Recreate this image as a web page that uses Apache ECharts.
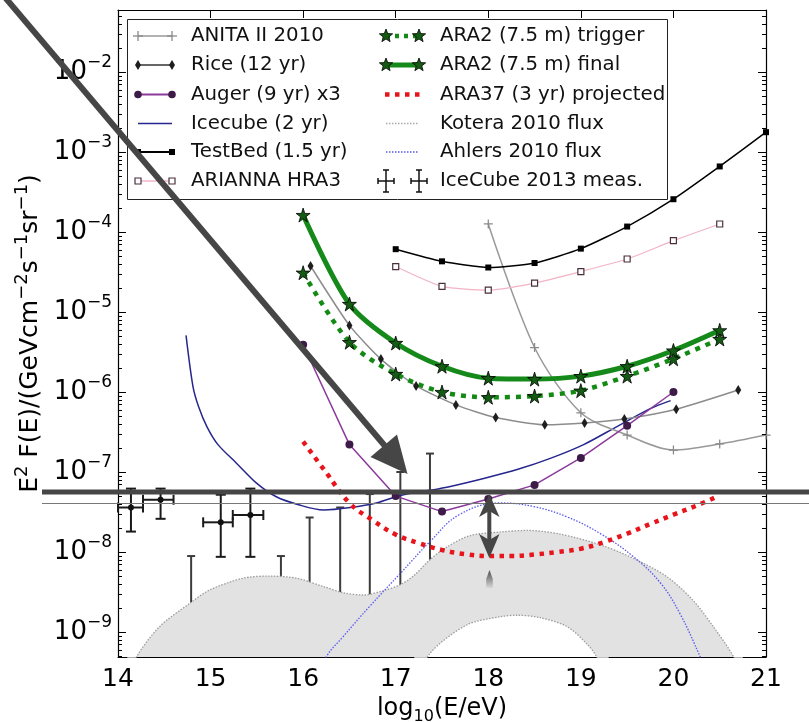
<!DOCTYPE html>
<html><head><meta charset="utf-8">
<script src="https://cdn.jsdelivr.net/npm/echarts@6/dist/echarts.min.js"></script>
<style>html,body{margin:0;padding:0;background:#fff}#c{width:809px;height:722px}</style>
</head><body><div id="c"></div>
<script>
const FONT = '"DejaVu Sans", "Liberation Sans", sans-serif';
const X_MIN = 14, X_MAX = 21, Y_MIN = 4.87e-10, Y_MAX = 0.0596;

// ---- data (log10(E/eV), E^2 F(E) in GeV cm^-2 s^-1 sr^-1) ----
const anitaX = [18, 18.5, 19, 19.5, 20, 20.5, 21];
const anitaY = [1.26e-4, 3.6e-6, 5.5e-7, 2.9e-7, 1.88e-7, 2.24e-7, 2.9e-7];

const riceX = [16.08, 16.5, 16.84, 17.22, 17.65, 18.08, 18.61, 19.04, 19.47, 20.03, 20.7];
const riceY = [3.76e-5, 6.8e-6, 2.58e-6, 1.19e-6, 6.9e-7, 4.8e-7, 3.9e-7, 4.1e-7, 4.6e-7, 6.1e-7, 1.06e-6];

const augerX = [16, 16.5, 17, 17.5, 18, 18.5, 19, 19.5, 20];
const augerY = [3.9e-6, 2.2e-7, 5.0e-8, 3.2e-8, 4.6e-8, 6.9e-8, 1.5e-7, 3.8e-7, 1.0e-6];

const icecube2X = [14.735, 14.81, 14.87, 14.96, 15.08, 15.28, 15.5, 15.71, 15.95, 16.22, 16.51, 16.79, 17.05, 17.37, 17.59, 17.95, 18.32, 18.67, 19.03, 19.39, 19.75, 19.97];
const icecube2Y = [5.1e-6, 1.17e-6, 6.6e-7, 3.7e-7, 2.2e-7, 1.29e-7, 7.2e-8, 4.9e-8, 3.9e-8, 3.35e-8, 3.6e-8, 4.1e-8, 5.1e-8, 5.9e-8, 6.6e-8, 8.3e-8, 1.08e-7, 1.48e-7, 2.2e-7, 3.7e-7, 6.2e-7, 7.8e-7];

const testbedX = [17, 17.5, 18, 18.5, 19, 19.5, 20, 20.5, 21];
const testbedY = [6.1e-5, 4.3e-5, 3.6e-5, 4.1e-5, 6.2e-5, 1.17e-4, 2.57e-4, 6.6e-4, 1.77e-3];

const ariannaX = [17, 17.5, 18, 18.5, 19, 19.5, 20, 20.5];
const ariannaY = [3.7e-5, 2.09e-5, 1.88e-5, 2.3e-5, 3.2e-5, 4.6e-5, 7.8e-5, 1.26e-4];

const araX = [16, 16.5, 17, 17.5, 18, 18.5, 19, 19.5, 20, 20.5];
const ara2TriggerY = [3.1e-5, 4.2e-6, 1.68e-6, 1.0e-6, 8.6e-7, 8.9e-7, 1.04e-6, 1.58e-6, 2.6e-6, 4.6e-6];
const ara2FinalY = [1.63e-4, 1.26e-5, 4.1e-6, 2.1e-6, 1.49e-6, 1.45e-6, 1.58e-6, 2.1e-6, 3.3e-6, 5.9e-6];

const ara37X = [16, 16.25, 16.5, 16.75, 17, 17.25, 17.5, 17.75, 18, 18.25, 18.5, 18.75, 19, 19.25, 19.5, 19.75, 20, 20.25, 20.45];
const ara37Y = [2.4e-7, 9.8e-8, 4.1e-8, 2.5e-8, 1.65e-8, 1.29e-8, 1.06e-8, 9.4e-9, 8.9e-9, 8.9e-9, 9.3e-9, 1.0e-8, 1.1e-8, 1.33e-8, 1.7e-8, 2.24e-8, 2.93e-8, 3.8e-8, 4.8e-8];

const koteraUpX = [14.1, 14.2, 14.45, 14.78, 14.99, 15.35, 15.64, 15.93, 16.22, 16.43, 16.65, 16.87, 17.05, 17.19, 17.37, 17.55, 17.8, 18.13, 18.42, 18.77, 19.21, 19.57, 19.93, 20.21, 20.43, 20.65, 20.75];
const koteraUpY = [2.5e-10, 4.9e-10, 1.17e-9, 2.3e-9, 3.35e-9, 4.7e-9, 5.0e-9, 4.7e-9, 3.7e-9, 3.1e-9, 2.9e-9, 3.3e-9, 3.9e-9, 5.0e-9, 8.0e-9, 1.15e-8, 1.6e-8, 1.78e-8, 1.86e-8, 1.68e-8, 1.23e-8, 8.3e-9, 4.9e-9, 2.5e-9, 1.17e-9, 4.9e-10, 2.5e-10];
const koteraLoX = [17.2, 17.37, 17.77, 18.13, 18.31, 18.56, 18.85, 19.06, 19.17, 19.3];
const koteraLoY = [2.0e-10, 5.4e-10, 1.23e-9, 1.55e-9, 1.62e-9, 1.51e-9, 1.17e-9, 7.2e-10, 4.9e-10, 2.0e-10];

const ahlersX = [16.15, 16.25, 16.43, 16.72, 17.05, 17.37, 17.69, 18.13, 18.49, 18.85, 19.21, 19.57, 19.86, 20.07, 20.29, 20.4];
const ahlersY = [2.5e-10, 4.9e-10, 8.7e-10, 2.1e-9, 5.4e-9, 1.35e-8, 2.95e-8, 4.1e-8, 3.7e-8, 2.75e-8, 1.7e-8, 8.7e-9, 4.1e-9, 1.7e-9, 4.9e-10, 2.5e-10];

// IceCube 2013 measurements (points with error bars) and upper limits
const measX = [14.14, 14.46, 15.11, 15.43];
const measY = [3.6e-8, 4.5e-8, 2.35e-8, 2.9e-8];
const measXlo = [14.0, 14.27, 14.92, 15.24];
const measXhi = [14.27, 14.6, 15.24, 15.57];
const measYlo = [1.8e-8, 2.6e-8, 8.7e-9, 8.7e-9];
const measYhi = [6.2e-8, 6.2e-8, 5.2e-8, 6.2e-8];
const limitX = [14.79, 15.76, 16.07, 16.4, 16.72, 17.05, 17.37];
const limitTop = [8.9e-9, 8.9e-9, 2.7e-8, 3.6e-8, 5.3e-8, 1.0e-7, 1.7e-7];

const legendCol1 = ['ANITA II 2010', 'Rice (12 yr)', 'Auger (9 yr) x3', 'Icecube (2 yr)', 'TestBed (1.5 yr)', 'ARIANNA HRA3'];
const legendCol2 = ['ARA2 (7.5 m) trigger', 'ARA2 (7.5 m) final', 'ARA37 (3 yr) projected', 'Kotera 2010 flux', 'Ahlers 2010 flux', 'IceCube 2013 meas.'];

// ---- helpers ----
const pairs = (xs, ys) => xs.map((x, i) => [x, ys[i]]);
const STAR = 'path://M50,0 L61,35 L98,35 L68,57 L79,91 L50,70 L21,91 L32,57 L2,35 L39,35 Z';
const PLUS = 'path://M4.3,0 H5.7 V4.3 H10 V5.7 H5.7 V10 H4.3 V5.7 H0 V4.3 H4.3 Z';

function yFmt(v) {
  const e = Math.log10(v), r = Math.round(e);
  if (Math.abs(e - r) > 1e-6) return '';
  return '{b|10}{s|' + (r < 0 ? '\u2212' : '') + Math.abs(r) + '}';
}

function renderMeas(params, api) {
  const x = api.value(0), y = api.value(1);
  const c = api.coord([x, y]);
  const xl = api.coord([api.value(2), y])[0], xh = api.coord([api.value(3), y])[0];
  const yl = api.coord([x, api.value(4)])[1], yh = api.coord([x, api.value(5)])[1];
  const st = { stroke: '#1a1a1a', lineWidth: 2 };
  return { type: 'group', children: [
    { type: 'line', shape: { x1: xl, y1: c[1], x2: xh, y2: c[1] }, style: st },
    { type: 'line', shape: { x1: xl, y1: c[1] - 5, x2: xl, y2: c[1] + 5 }, style: st },
    { type: 'line', shape: { x1: xh, y1: c[1] - 5, x2: xh, y2: c[1] + 5 }, style: st },
    { type: 'line', shape: { x1: c[0], y1: yl, x2: c[0], y2: yh }, style: st },
    { type: 'line', shape: { x1: c[0] - 5, y1: yl, x2: c[0] + 5, y2: yl }, style: st },
    { type: 'line', shape: { x1: c[0] - 5, y1: yh, x2: c[0] + 5, y2: yh }, style: st },
    { type: 'circle', shape: { cx: c[0], cy: c[1], r: 3 }, style: { fill: '#111' } }
  ]};
}
function renderLimit(params, api) {
  const c = api.coord([api.value(0), api.value(1)]);
  const bottom = params.coordSys.y + params.coordSys.height;
  const st = { stroke: '#3c3c3c', lineWidth: 2 };
  return { type: 'group', children: [
    { type: 'line', shape: { x1: c[0], y1: c[1], x2: c[0], y2: bottom }, style: st },
    { type: 'line', shape: { x1: c[0] - 4, y1: c[1], x2: c[0] + 4, y2: c[1] }, style: st }
  ]};
}

const chart = echarts.init(document.getElementById('c'), null, { renderer: 'canvas' });

const axisLineStyle = { show: true, onZero: false, lineStyle: { color: '#000', width: 1.2 } };
const tickStyle = { show: true, inside: true, length: 8, lineStyle: { color: '#000', width: 1 } };

const option = {
  animation: false,
  backgroundColor: '#fff',
  grid: { left: 118, right: 43, top: 10, bottom: 65, containLabel: false, outerBoundsMode: 'none' },
  xAxis: [
    { type: 'value', min: X_MIN, max: X_MAX, interval: 1, position: 'bottom',
      axisLine: axisLineStyle, axisTick: tickStyle, splitLine: { show: false },
      axisLabel: { fontFamily: FONT, fontSize: 25, color: '#000', margin: 10 },
      name: '{a|log}{sub|10}{a|(E/eV)}', nameLocation: 'middle', nameGap: 34,
      nameTextStyle: { color: '#000', fontFamily: FONT, fontSize: 24,
        rich: { a: { fontFamily: FONT, fontSize: 24, lineHeight: 32, color: '#000' },
                sub: { fontFamily: FONT, fontSize: 16, lineHeight: 16, verticalAlign: 'bottom', color: '#000' } } } },
    { type: 'value', min: X_MIN, max: X_MAX, interval: 1, position: 'top',
      axisLine: axisLineStyle, axisTick: tickStyle, splitLine: { show: false }, axisLabel: { show: false } }
  ],
  yAxis: [
    { type: 'log', logBase: 10, min: Y_MIN, max: Y_MAX, position: 'left',
      axisLine: axisLineStyle, axisTick: tickStyle, splitLine: { show: false }, minorTick: { show: false },
      axisLabel: { formatter: yFmt, showMinLabel: false, showMaxLabel: false, margin: 6, color: '#000',
        rich: { b: { fontFamily: FONT, fontSize: 26, lineHeight: 36, color: '#000' },
                s: { fontFamily: FONT, fontSize: 17, lineHeight: 17, verticalAlign: 'top', color: '#000' } } },
      name: '{a|E}{s|2}{a| F(E)/(GeVcm}{s|\u22122}{a|s}{s|\u22121}{a|sr}{s|\u22121}{a|)}',
      nameLocation: 'middle', nameGap: 70, nameRotate: 90,
      nameTextStyle: { color: '#000', fontFamily: FONT, fontSize: 25,
        rich: { a: { fontFamily: FONT, fontSize: 25, lineHeight: 35, color: '#000' },
                s: { fontFamily: FONT, fontSize: 18, lineHeight: 18, verticalAlign: 'top', color: '#000' } } } },
    { type: 'log', logBase: 10, min: Y_MIN, max: Y_MAX, position: 'right',
      axisLine: axisLineStyle, axisTick: tickStyle, splitLine: { show: false }, axisLabel: { show: false } }
  ],
  series: [
    { name: 'Kotera 2010 flux', type: 'line', data: pairs(koteraUpX, koteraUpY), smooth: 0.3, symbol: 'none', silent: true,
      lineStyle: { color: '#9c9c9c', width: 1.3, type: [1.5, 1.5] }, areaStyle: { color: '#e2e2e2', opacity: 1, origin: 'start' } },
    { name: 'Kotera lower', type: 'line', data: pairs(koteraLoX, koteraLoY), smooth: 0.3, symbol: 'none', silent: true,
      lineStyle: { color: '#9c9c9c', width: 1.3, type: [1.5, 1.5] }, areaStyle: { color: '#ffffff', opacity: 1, origin: 'start' } },
    { name: 'Ahlers 2010 flux', type: 'line', data: pairs(ahlersX, ahlersY), smooth: 0.4, symbol: 'none', silent: true,
      lineStyle: { color: '#5858f0', width: 1.3, type: [1.5, 1.5] } },
    { name: 'IceCube 2013 limits', type: 'custom', renderItem: renderLimit, encode: { x: 0, y: 1 }, silent: true,
      data: pairs(limitX, limitTop) },
    { name: 'IceCube 2013 meas.', type: 'custom', renderItem: renderMeas, encode: { x: 0, y: 1 }, silent: true,
      data: measX.map((x, i) => [x, measY[i], measXlo[i], measXhi[i], measYlo[i], measYhi[i]]) },
    { name: 'Icecube (2 yr)', type: 'line', data: pairs(icecube2X, icecube2Y), smooth: 0.3, symbol: 'none', silent: true,
      lineStyle: { color: '#26268e', width: 1.5 } },
    { name: 'ARA37 (3 yr) projected', type: 'line', data: pairs(ara37X, ara37Y), smooth: 0.4, symbol: 'none', silent: true,
      lineStyle: { color: '#e8141c', width: 4.5, type: [4.5, 5.5] } },
    { name: 'ANITA II 2010', type: 'line', data: pairs(anitaX, anitaY), smooth: 0.3, symbol: PLUS, symbolSize: 9, silent: true,
      itemStyle: { color: '#8a8a8a' }, lineStyle: { color: '#999999', width: 1.5 } },
    { name: 'Rice (12 yr)', type: 'line', data: pairs(riceX, riceY), smooth: 0.2, symbol: 'diamond', symbolSize: [6, 10], silent: true,
      itemStyle: { color: '#1e1e1e' }, lineStyle: { color: '#8c8c8c', width: 1.5 } },
    { name: 'Auger (9 yr) x3', type: 'line', data: pairs(augerX, augerY), symbol: 'circle', symbolSize: 8, silent: true,
      itemStyle: { color: '#3d1a48' }, lineStyle: { color: '#8b3a9b', width: 1.5 } },
    { name: 'TestBed (1.5 yr)', type: 'line', data: pairs(testbedX, testbedY), smooth: 0.2, symbol: 'rect', symbolSize: 6, silent: true,
      itemStyle: { color: '#000' }, lineStyle: { color: '#000', width: 1.5 } },
    { name: 'ARIANNA HRA3', type: 'line', data: pairs(ariannaX, ariannaY), smooth: 0.2, symbol: 'rect', symbolSize: 6, silent: true,
      itemStyle: { color: '#fff', borderColor: '#4a2f3c', borderWidth: 1.2 }, lineStyle: { color: '#f2b3c4', width: 1.2 } },
    { name: 'ARA2 (7.5 m) trigger', type: 'line', data: pairs(araX, ara2TriggerY), smooth: 0.3, symbol: STAR, symbolSize: 14, silent: true,
      itemStyle: { color: '#145c14', borderColor: '#000', borderWidth: 0.8 }, lineStyle: { color: '#138a13', width: 4.5, type: [5, 6] } },
    { name: 'ARA2 (7.5 m) final', type: 'line', data: pairs(araX, ara2FinalY), smooth: 0.3, symbol: STAR, symbolSize: 14, silent: true,
      itemStyle: { color: '#145c14', borderColor: '#000', borderWidth: 0.8 }, lineStyle: { color: '#15891a', width: 5 } }
  ]
};
chart.setOption(option);

// ---- graphic: minor log ticks, legend, annotations ----
const G = [];
const ln = (x1, y1, x2, y2, stroke, w, dash, z) => ({ type: 'line', z: z || 50, shape: { x1, y1, x2, y2 }, style: { stroke, lineWidth: w, lineDash: dash || null } });
const xL = chart.convertToPixel({ xAxisIndex: 0 }, X_MIN), xR = chart.convertToPixel({ xAxisIndex: 0 }, X_MAX);
for (let e = -10; e <= -2; e++) {
  for (let k = 2; k <= 9; k++) {
    const v = k * Math.pow(10, e);
    if (v <= Y_MIN || v >= Y_MAX) continue;
    const py = Math.round(chart.convertToPixel({ yAxisIndex: 0 }, v)) + 0.5;
    G.push(ln(xL, py, xL + 4, py, '#000', 1), ln(xR - 4, py, xR, py, '#000', 1));
  }
}

// legend box
G.push({ type: 'rect', z: 50, shape: { x: 127.5, y: 19.5, width: 540, height: 180 }, style: { fill: '#fff', stroke: '#222', lineWidth: 1 } });
const rowY = [36, 65, 94.5, 123.5, 152, 181];
const c1a = 138, c1b = 172, c2a = 386, c2b = 419;
function starPoly(cx, cy, r) {
  const pts = [];
  for (let i = 0; i < 10; i++) {
    const a = -Math.PI / 2 + i * Math.PI / 5, rr = i % 2 ? r * 0.42 : r;
    pts.push([cx + rr * Math.cos(a), cy + rr * Math.sin(a)]);
  }
  return { type: 'polygon', z: 51, shape: { points: pts }, style: { fill: '#145c14', stroke: '#000', lineWidth: 0.8 } };
}
function plus(cx, cy, col) { return [ln(cx - 5, cy, cx + 5, cy, col, 1.3, null, 51), ln(cx, cy - 5, cx, cy + 5, col, 1.3, null, 51)]; }
function diamond(cx, cy) { return { type: 'polygon', z: 51, shape: { points: [[cx, cy - 5], [cx + 3, cy], [cx, cy + 5], [cx - 3, cy]] }, style: { fill: '#1e1e1e' } }; }
function sq(cx, cy, fill, stroke) { return { type: 'rect', z: 51, shape: { x: cx - 3, y: cy - 3, width: 6, height: 6 }, style: { fill, stroke: stroke || null, lineWidth: 1.2 } }; }
function ebar(cx, cy) {
  const s = '#111';
  return [ln(cx - 8, cy, cx + 8, cy, s, 1.5, null, 51), ln(cx - 8, cy - 3, cx - 8, cy + 3, s, 1.5, null, 51), ln(cx + 8, cy - 3, cx + 8, cy + 3, s, 1.5, null, 51),
          ln(cx, cy - 11, cx, cy + 11, s, 1.5, null, 51), ln(cx - 3, cy - 11, cx + 3, cy - 11, s, 1.5, null, 51), ln(cx - 3, cy + 11, cx + 3, cy + 11, s, 1.5, null, 51)];
}
// column 1 icons
let y = rowY[0];
G.push(ln(c1a, y, c1b, y, '#999', 1.5), ...plus(c1a, y, '#8a8a8a'), ...plus(c1b, y, '#8a8a8a'));
y = rowY[1];
G.push(ln(c1a, y, c1b, y, '#333', 1.5), diamond(c1a, y), diamond(c1b, y));
y = rowY[2];
G.push(ln(c1a, y, c1b, y, '#8b3a9b', 1.8), { type: 'circle', z: 51, shape: { cx: c1a, cy: y, r: 3.8 }, style: { fill: '#3d1a48' } }, { type: 'circle', z: 51, shape: { cx: c1b, cy: y, r: 3.8 }, style: { fill: '#3d1a48' } });
y = rowY[3];
G.push(ln(c1a, y, c1b, y, '#26268e', 1.6));
y = rowY[4];
G.push(ln(c1a, y, c1b, y, '#000', 1.8), sq(c1a, y, '#000'), sq(c1b, y, '#000'));
y = rowY[5];
G.push(ln(c1a, y, c1b, y, '#f2b3c4', 1.3), sq(c1a, y, '#fff', '#4a2f3c'), sq(c1b, y, '#fff', '#4a2f3c'));
// column 2 icons
y = rowY[0];
G.push(ln(c2a, y, c2b, y, '#138a13', 4.5, [4, 5]), starPoly(c2a, y, 7), starPoly(c2b, y, 7));
y = rowY[1];
G.push(ln(c2a, y, c2b, y, '#15891a', 5), starPoly(c2a, y, 7), starPoly(c2b, y, 7));
y = rowY[2];
G.push(ln(c2a - 1, y, c2b + 1, y, '#e8141c', 4.5, [4.5, 5.5]));
y = rowY[3];
G.push(ln(c2a, y, c2b, y, '#aaaaaa', 1.3, [1.5, 1.5]));
y = rowY[4];
G.push(ln(c2a, y, c2b, y, '#5858f0', 1.3, [1.5, 1.5]));
y = rowY[5];
G.push(...ebar(c2a, y), ...ebar(c2b, y));
// legend text
const LFONT = '19.8px ' + FONT;
legendCol1.forEach((t, i) => G.push({ type: 'text', z: 52, x: 191, y: rowY[i], style: { text: t, font: LFONT, fill: '#111', align: 'left', verticalAlign: 'middle', textAlign: 'left', textVerticalAlign: 'middle' } }));
legendCol2.forEach((t, i) => G.push({ type: 'text', z: 52, x: 440, y: rowY[i], style: { text: t, font: LFONT, fill: '#111', align: 'left', verticalAlign: 'middle', textAlign: 'left', textVerticalAlign: 'middle' } }));

// overlay annotations
const AC = '#464646';
G.push(ln(42, 503.5, 809, 503.5, '#777', 1, null, 100));
G.push(ln(42, 492, 809, 492, AC, 5, null, 101));
G.push(ln(3, -5, 385, 446, AC, 6, null, 101));
G.push({ type: 'polygon', z: 101, shape: { points: [[407.5, 474], [397, 434.5], [370.5, 457]] }, style: { fill: AC } });
G.push(ln(489.3, 510, 489.3, 540, AC, 4, null, 101));
G.push({ type: 'polygon', z: 101, shape: { points: [[489.3, 494], [499.5, 517], [489.3, 511], [479.1, 517]] }, style: { fill: AC } });
G.push({ type: 'polygon', z: 101, shape: { points: [[489.3, 558], [499.5, 534], [489.3, 540], [479.1, 534]] }, style: { fill: AC } });
G.push({ type: 'polygon', z: 101, shape: { points: [[489.5, 570], [492.8, 579], [492.8, 588], [486.2, 588], [486.2, 579]] },
  style: { fill: new echarts.graphic.LinearGradient(0, 0, 0, 1, [{ offset: 0, color: '#4a4a4a' }, { offset: 1, color: '#d8d8d8' }]) } });

chart.setOption({ graphic: { elements: G } });
</script>
</body></html>
